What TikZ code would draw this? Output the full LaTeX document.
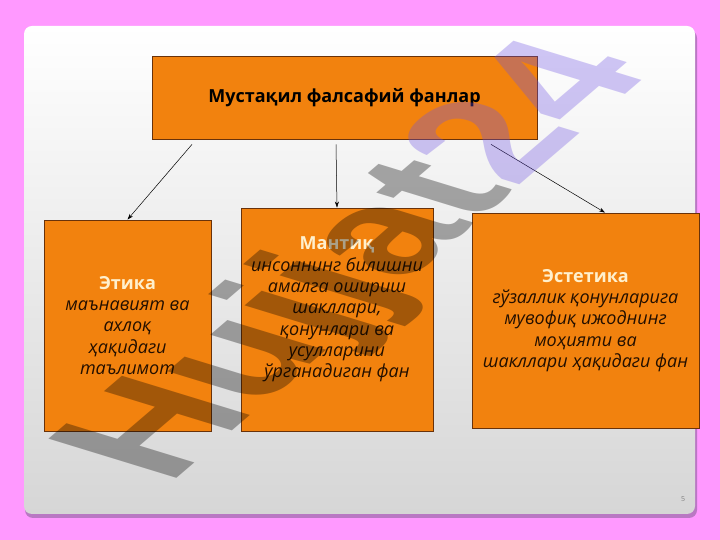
\documentclass[tikz,border=0pt]{standalone}
\usepackage{fontspec}
\setmainfont{Open Sans}
\newfontfamily\wmfont{Liberation Sans}
\usetikzlibrary{arrows.meta}

\definecolor{slidepink}{RGB}{255,153,255}
\definecolor{slideshadow}{RGB}{185,120,195}
\definecolor{slidegray}{RGB}{214,214,214}
\definecolor{boxorange}{RGB}{242,130,14}
\definecolor{boxedge}{RGB}{105,50,10}
\definecolor{headcream}{RGB}{255,240,205}
\definecolor{bodydark}{RGB}{35,15,0}
\definecolor{wmviolet}{RGB}{111,83,226}

\tikzset{
    fanbox/.style={draw=boxedge, line width=0.8pt, fill=boxorange, inner sep=0pt,
        align=center, text=bodydark, font=\fontsize{18}{21.3}\selectfont},
    conn/.style={-{Stealth[length=6pt,width=4pt]}, line width=0.5pt},
    wmark/.style={transform shape, inner sep=0pt, anchor=base west, text=black,
        text opacity=0.33, font=\wmfont\bfseries\fontsize{100}{100}\selectfont}
}
\newcommand{\boxhead}[1]{\textbf{\color{headcream}#1}}

\begin{document}
\begin{tikzpicture}[x=1pt,y=1pt]
    \useasboundingbox (0,0) rectangle (720,540);
    \fill[slidepink] (0,0) rectangle (720,540);
    \fill[slideshadow, rounded corners=8pt] (25,22) rectangle (697,510);
    \shade[top color=white, bottom color=slidegray, rounded corners=8pt] (24,26) rectangle (695,514);

    \node[fanbox, minimum width=385pt, minimum height=83pt] (top) at (344.5,442.5)
        {\textbf{\color{black}Мустақил фалсафий фанлар}};
    \node[fanbox, minimum width=167pt, minimum height=211pt] (etika) at (127.5,214.5)
        {\boxhead{Этика}\\ \textit{маънавият ва}\\ \textit{ахлоқ}\\ \textit{ҳақидаги}\\ \textit{таълимот}};
    \node[fanbox, minimum width=192pt, minimum height=223pt] (mantiq) at (337,220.5) {};
    \node[align=center, text=bodydark, font=\fontsize{18}{21.3}\selectfont, inner sep=0pt] (mantiqtext) at (337,230.5)
        {\boxhead{Мантиқ}\\ \textit{инсоннинг билишни}\\ \textit{амалга ошириш}\\ \textit{шакллари,}\\ \textit{қонунлари ва}\\ \textit{усулларини}\\ \textit{ўрганадиган фан}};
    \node[fanbox, minimum width=227pt, minimum height=215pt] (estetika) at (585.5,219.5)
        {\boxhead{Эстетика}\\ \textit{гўзаллик қонунларига}\\ \textit{мувофиқ ижоднинг}\\ \textit{моҳияти ва}\\ \textit{шакллари ҳақидаги фан}};

    \foreach \dx/\to/\ex in {-152.5/etika/0, -8.5/mantiq/0, 146.5/estetika/19.5}
        \draw[conn] ([xshift=\dx pt, yshift=-5pt]top.south) -- ([xshift=\ex pt]\to.north);

    \node[text=gray, font=\fontsize{7}{8}\selectfont] (pagenum) at (683,41) {5};

    % watermark
    \begin{scope}[cm={1.25,1.07,-1.86,0.57,(168,54)}]
        \node[wmark] (wm) at (0,0) {Hujjat\textcolor{wmviolet}{24}};
    \end{scope}
\end{tikzpicture}
\end{document}
